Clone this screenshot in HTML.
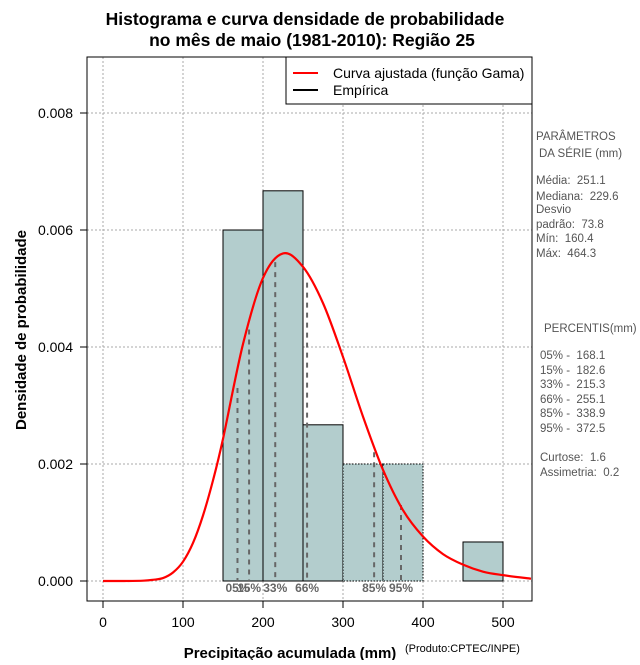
<!DOCTYPE html>
<html><head><meta charset="utf-8"><style>
body{margin:0;background:#fff;}
svg text{font-family:"Liberation Sans",sans-serif;white-space:pre;}
</style></head><body>
<svg id="c" width="640" height="660" xmlns="http://www.w3.org/2000/svg" xml:space="preserve">
<text x="305" y="25" text-anchor="middle" font-size="17.5" font-weight="bold">Histograma e curva densidade de probabilidade</text>
<text x="312" y="46" text-anchor="middle" font-size="17.5" font-weight="bold">no mês de maio (1981-2010): Região 25</text>
<g id="grid"></g><g id="bars"></g><g id="pct"></g><path id="curve" fill="none" stroke="#f00" stroke-width="2.2"/>
<rect x="87" y="57" width="445" height="544" fill="none" stroke="#000"/>
<g id="axes"></g>
<g>
<rect x="286" y="57" width="246" height="47" fill="#fff" stroke="#000"/>
<line x1="293" y1="73" x2="318" y2="73" stroke="#f00" stroke-width="2"/>
<text x="333" y="78" font-size="14">Curva ajustada (função Gama)</text>
<line x1="293" y1="90" x2="318" y2="90" stroke="#000" stroke-width="2"/>
<text x="333" y="95" font-size="14">Empírica</text>
</g>
<text transform="translate(26,330) rotate(-90)" text-anchor="middle" font-size="15" font-weight="bold">Densidade de probabilidade</text>
<text x="290" y="658" text-anchor="middle" font-size="15" font-weight="bold">Precipitação acumulada (mm)</text>
<text x="405" y="652" font-size="11">(Produto:CPTEC/INPE)</text>
<g font-size="11.5" fill="#555">
<text x="536" y="140">PARÂMETROS</text><text x="539" y="157">DA SÉRIE (mm)</text>
<text x="536" y="184">Média:  251.1</text><text x="536" y="200">Mediana:  229.6</text>
<text x="536" y="213">Desvio</text><text x="536" y="228">padrão:  73.8</text>
<text x="536" y="242">Mín:  160.4</text><text x="536" y="257">Máx:  464.3</text>
<text x="544" y="332">PERCENTIS(mm)</text>
<text x="540" y="359">05% -  168.1</text><text x="540" y="374">15% -  182.6</text>
<text x="540" y="388">33% -  215.3</text><text x="540" y="403">66% -  255.1</text>
<text x="540" y="417">85% -  338.9</text><text x="540" y="432">95% -  372.5</text>
<text x="540" y="461">Curtose:  1.6</text><text x="540" y="476">Assimetria:  0.2</text>
</g>
</svg>
<script>
const binEdges=[150,200,250,300,350,400,450];
const binDensity=[0.006,0.00667,0.00267,0.002,0.002,0,0.000667];
const curveX=[0,25,50,62.5,75,87.5,100,112.5,125,137.5,150,175,200,225,250,275,300,325,350,375,400,425,450,475,500,535];
const curveY=[0,0,0.000005,0.00002,0.00005,0.000145,0.00033,0.00065,0.00112,0.00172,0.00243,0.00405,0.00518,0.0056,0.00537,0.00475,0.00383,0.00281,0.0019,0.00121,0.00076,0.00046,0.00028,0.00016,0.0001,0.00004];
const pctLabels=["05%","15%","33%","66%","85%","95%"];
const pctValues=[168.1,182.6,215.3,255.1,338.9,372.5];
const pctDensity=[0.0033,0.0043,0.00545,0.0051,0.0022,0.0013];
const xTicks=[0,100,200,300,400,500];
const yTicks=[0,0.002,0.004,0.006,0.008];
const X=v=>103+v*0.8, Y=v=>581-v*58500;
const NS="http://www.w3.org/2000/svg";
function mk(p,t,a){const e=document.createElementNS(NS,t);for(const k in a)e.setAttribute(k,a[k]);document.getElementById(p).appendChild(e);return e;}
xTicks.forEach(t=>{const g=mk('grid','line',{x1:X(t),x2:X(t),y1:57,y2:601,stroke:'#aaa','stroke-dasharray':'2,2'});

const l=mk('axes','line',{x1:X(t),x2:X(t),y1:601,y2:608,stroke:'#000'});

const tx=mk('axes','text',{x:X(t),y:627,'text-anchor':'middle','font-size':14});tx.textContent=t;
});
yTicks.forEach(t=>{const g=mk('grid','line',{x1:87,x2:532,y1:Y(t),y2:Y(t),stroke:'#aaa','stroke-dasharray':'2,2'});

const l=mk('axes','line',{x1:80,x2:87,y1:Y(t),y2:Y(t),stroke:'#000'});

const tx=mk('axes','text',{x:73,y:Y(t)+5,'text-anchor':'end','font-size':14});tx.textContent=t.toFixed(3);
});
binDensity.forEach((d,i)=>{const x0=X(binEdges[i]),x1=X(binEdges[i]+50);
const a={x:x0,y:Y(d),width:x1-x0,height:Y(0)-Y(d),fill:'#b3cdcd',stroke:'#000','stroke-width':1};
if(i===3||i===4||i===5)a['stroke-dasharray']='1.5,1.5';
const r=mk('bars','rect',a);
});
pctValues.forEach((v,i)=>{const l=mk('pct','line',{x1:X(v),x2:X(v),y1:Y(pctDensity[i]),y2:Y(0),stroke:'#666','stroke-width':2,'stroke-dasharray':'5,5'});

const t=mk('pct','text',{x:X(v),y:592,'text-anchor':'middle','font-size':12,'font-weight':'bold',fill:'#666'});t.textContent=pctLabels[i];
});
const P=curveX.map((x,i)=>[X(x),Y(curveY[i])]);
let d='M'+P[0][0]+','+P[0][1];
for(let i=0;i<P.length-1;i++){const p0=P[Math.max(0,i-1)],p1=P[i],p2=P[i+1],p3=P[Math.min(P.length-1,i+2)];
const c1=[p1[0]+(p2[0]-p0[0])/6,p1[1]+(p2[1]-p0[1])/6],c2=[p2[0]-(p3[0]-p1[0])/6,p2[1]-(p3[1]-p1[1])/6];
d+=`C${c1[0]},${c1[1]} ${c2[0]},${c2[1]} ${p2[0]},${p2[1]}`;}
document.getElementById('curve').setAttribute('d',d);
</script>
</body></html>
